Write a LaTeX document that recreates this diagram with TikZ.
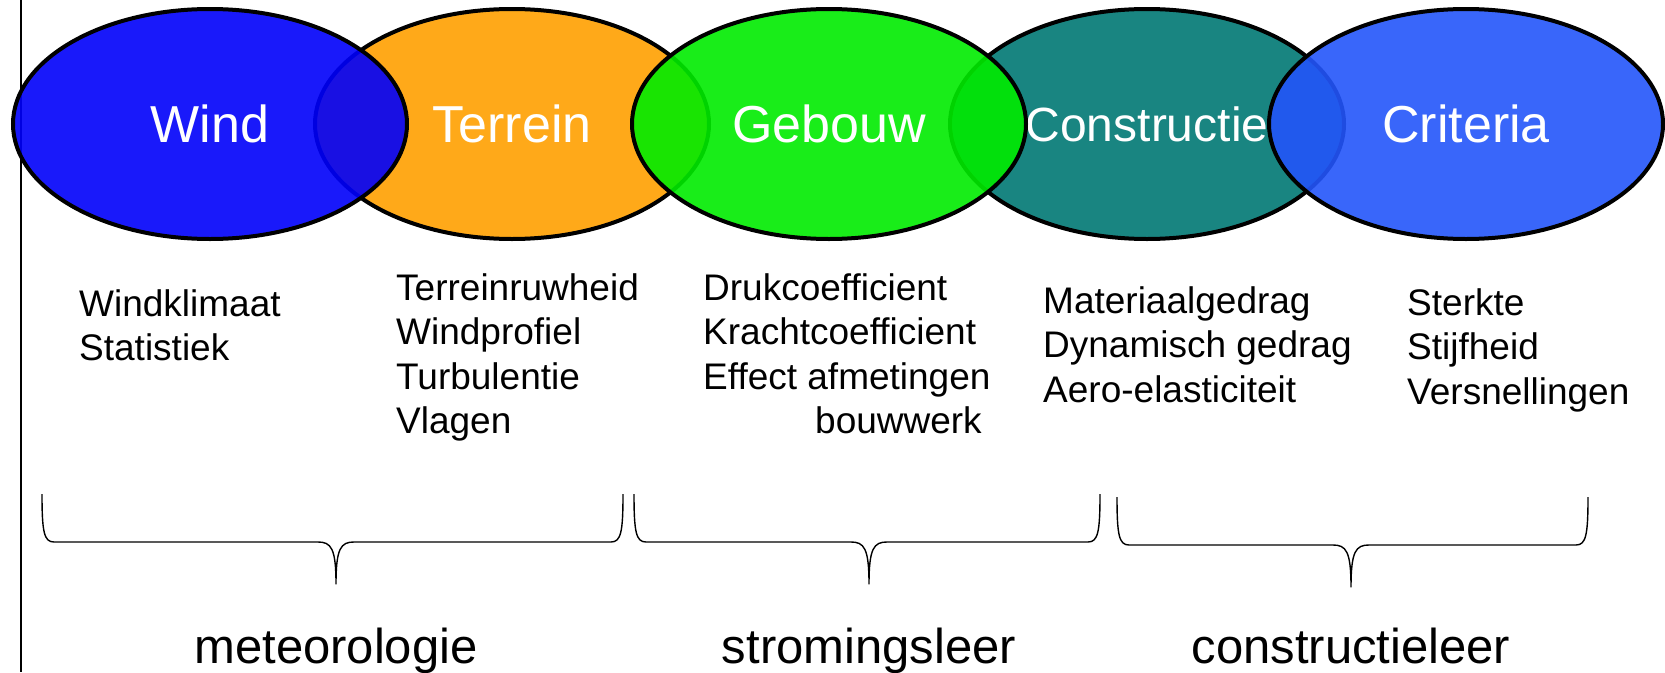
\documentclass[tikz,border=0pt]{standalone}
\usepackage{fontspec}
\setmainfont{Liberation Sans}
\usetikzlibrary{shapes.geometric}
\definecolor{windblauw}{RGB}{0,0,250}
\definecolor{terreinoranje}{RGB}{255,160,0}
\definecolor{gebouwgroen}{RGB}{0,235,0}
\definecolor{constrblauwgroen}{RGB}{0,120,115}
\definecolor{criteriablauw}{RGB}{35,85,250}
\tikzset{blob/.style={ellipse,draw=black,line width=4pt,inner sep=0pt,
    minimum width=394pt,minimum height=230pt,fill opacity=.9,text opacity=1,
    text=white,font=\fontsize{52}{60}\selectfont}}
\tikzset{lijst/.style={anchor=north west,align=left,inner sep=0pt,
    font=\fontsize{37}{44.6}\selectfont}}
\tikzset{vak/.style={anchor=base,inner sep=0pt,font=\fontsize{49}{56}\selectfont}}
\tikzset{klamp/.style={line width=1.4pt,line join=round}}
% accolade: links, punt, rechts, hoogte van de lijn
\newcommand{\accolade}[4]{%
  \draw[klamp] (#1,#4-48) .. controls (#1,#4-10) and (#1+2,#4) .. (#1+12,#4)
    -- (#2-18,#4) .. controls (#2-5,#4) and (#2,#4+6) .. (#2,#4+42)
    .. controls (#2,#4+6) and (#2+5,#4) .. (#2+18,#4)
    -- (#3-12,#4) .. controls (#3-2,#4) and (#3,#4-10) .. (#3,#4-48);}

\begin{document}
\begin{tikzpicture}[x=1pt,y=-1pt]
    \useasboundingbox (0,0) rectangle (1665,672);
    \coordinate (randboven) at (21,0);
    \coordinate (randonder) at (21,672);
    \draw[line width=1.3pt] (randboven) -- (randonder);
    % onderste laag
    \node[blob,fill=terreinoranje] (terrein) at (512,124) {Terrein};
    \node[blob,fill=constrblauwgroen,font=\fontsize{48}{56}\selectfont] (constructie) at (1147,124) {Constructie};
    % bovenste laag
    \node[blob,fill=windblauw] (wind) at (210,124) {Wind};
    \node[blob,fill=gebouwgroen] (gebouw) at (829,124) {Gebouw};
    \node[blob,fill=criteriablauw] (criteria) at (1466,124) {Criteria};
    % aspecten
    \node[lijst] (windtekst) at (79,289) {Windklimaat\\Statistiek};
    \node[lijst] (terreintekst) at (396,273) {Terreinruwheid\\Windprofiel\\Turbulentie\\Vlagen};
    \node[lijst] (gebouwtekst) at (703,273) {Drukcoefficient\\Krachtcoefficient\\Effect afmetingen\\\hspace{112pt}bouwwerk};
    \node[lijst] (constructietekst) at (1043,286) {Materiaalgedrag\\Dynamisch gedrag\\Aero-elasticiteit};
    \node[lijst] (criteriatekst) at (1407,288) {Sterkte\\Stijfheid\\Versnellingen};
    % vakgebieden
    \accolade{42}{336}{623}{542}
    \accolade{634}{869}{1100}{542}
    \accolade{1117}{1351}{1588}{545}
    \node[vak] (meteo) at (336,663) {meteorologie};
    \node[vak] (stroming) at (869,663) {stromingsleer};
    \node[vak] (constrleer) at (1351,663) {constructieleer};
\end{tikzpicture}
\end{document}
